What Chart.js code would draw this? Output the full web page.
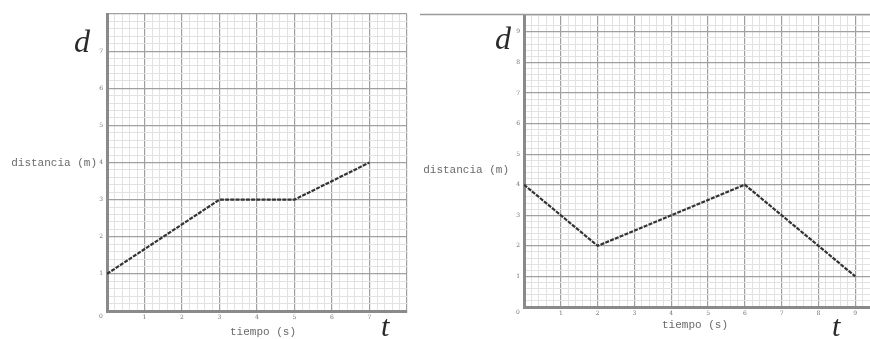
<!DOCTYPE html>
<html>
<head>
<meta charset="utf-8">
<script src="https://cdn.jsdelivr.net/npm/chart.js@4/dist/chart.umd.min.js"></script>
<style>
  html, body { margin: 0; padding: 0; background: #fff; }
  #wrap { position: relative; width: 870px; height: 339px; overflow: hidden; }
  canvas { position: absolute; top: 0; }
  #izq { left: 0; }
  #der { left: 420px; }
</style>
</head>
<body>
<div id="wrap">
  <canvas id="izq" width="420" height="339"></canvas>
  <canvas id="der" width="450" height="339"></canvas>
</div>
<script>
// Primer movimiento: tiempo (s) y distancia (m) en cada vértice
const tiempo1 = [0, 3, 5, 7];
const distancia1 = [1, 3, 3, 4];

// Segundo movimiento
const tiempo2 = [0, 2, 6, 9];
const distancia2 = [4, 2, 4, 1];

// Textos de los ejes
const tituloX = 'tiempo (s)';
const tituloY = 'distancia (m)';
const letraY = 'd';
const letraX = 't';
const origen = '0';

function esEntero(v) { return Math.abs(v - Math.round(v)) < 1e-6; }

// Papel milimetrado: líneas enteras más oscuras, subdivisiones claras
function colorRejilla(ctx) { return esEntero(ctx.tick.value) ? '#a0a0a0' : '#e2e2e2'; }
function anchoRejilla(ctx) { return esEntero(ctx.tick.value) ? 1.2 : 1; }

function etiqueta(limite) {
  return function (v) {
    const r = Math.round(v);
    return (esEntero(v) && r > 0 && r <= limite) ? String(r) : '';
  };
}

// Textos libres: letras grandes, títulos y origen
function rotulos(cfg) {
  return {
    id: 'rotulos',
    afterDraw(chart) {
      const c = chart.ctx;
      const a = chart.chartArea;
      c.save();
      if (cfg.lineaSuperior) {
        c.strokeStyle = '#9a9a9a';
        c.lineWidth = 1.6;
        c.beginPath();
        c.moveTo(0, a.top - 0.5);
        c.lineTo(chart.width, a.top - 0.5);
        c.stroke();
      }
      c.fillStyle = '#2a2a2a';
      c.textBaseline = 'alphabetic';
      c.textAlign = 'left';
      c.font = 'italic 32px "Liberation Serif", serif';
      c.fillText(letraY, cfg.d[0], cfg.d[1]);
      c.font = 'italic 30px "Liberation Serif", serif';
      c.fillText(letraX, cfg.t[0], cfg.t[1]);

      c.fillStyle = '#6a6a6a';
      c.font = '11px "Liberation Mono", monospace';
      c.textBaseline = 'middle';
      c.textAlign = 'right';
      c.fillText(tituloY, cfg.ty[0], cfg.ty[1]);
      c.textAlign = 'center';
      c.fillText(tituloX, cfg.tx[0], cfg.tx[1]);

      c.fillStyle = '#777';
      c.font = '6px "DejaVu Serif", serif';
      c.fillText(origen, a.left - 6, a.bottom + 5);
      c.restore();
    }
  };
}

function grafica(id, xs, ys, ejes, cfg) {
  const puntos = xs.map((x, i) => ({ x: x, y: ys[i] }));
  const marcas = { color: '#707070', font: { family: '"DejaVu Serif", serif', size: 6 }, autoSkip: false, maxRotation: 0 };
  return new Chart(document.getElementById(id), {
    type: 'line',
    data: {
      datasets: [{
        data: puntos,
        borderColor: '#333',
        borderWidth: 2.2,
        borderDash: [4, 1.2],
        pointRadius: 0,
        tension: 0,
        fill: false
      }]
    },
    options: {
      responsive: false,
      animation: false,
      devicePixelRatio: 1,
      layout: { padding: { top: cfg.top, right: cfg.right, left: 0, bottom: 0 } },
      plugins: { legend: { display: false }, tooltip: { enabled: false } },
      scales: {
        x: {
          type: 'linear',
          min: 0, max: ejes.xMax,
          ticks: Object.assign({ stepSize: 0.2, padding: 3, callback: etiqueta(ejes.xEtiq) }, marcas),
          grid: { color: colorRejilla, lineWidth: anchoRejilla, drawTicks: false },
          border: { color: '#8a8a8a', width: 3 },
          afterFit(s) { s.height = cfg.altoX; s.paddingLeft = 0; s.paddingRight = 0; }
        },
        y: {
          type: 'linear',
          min: 0, max: ejes.yMax,
          ticks: Object.assign({ stepSize: 0.2, padding: 4, callback: etiqueta(ejes.yEtiq) }, marcas),
          grid: { color: colorRejilla, lineWidth: anchoRejilla, drawTicks: false },
          border: { color: '#8a8a8a', width: 3 },
          afterFit(s) { s.width = cfg.anchoY; s.paddingTop = 0; s.paddingBottom = 0; }
        }
      }
    },
    plugins: [rotulos(cfg)]
  });
}

grafica('izq', tiempo1, distancia1,
  { xMax: 8, yMax: 8, xEtiq: 7, yEtiq: 7 },
  { top: 14, right: 13, altoX: 28, anchoY: 107,
    d: [74, 52], t: [381, 336], ty: [97, 163], tx: [263, 332], lineaSuperior: false });

grafica('der', tiempo2, distancia2,
  { xMax: 9.4, yMax: 9.55, xEtiq: 9, yEtiq: 9 },
  { top: 15, right: 0, altoX: 32, anchoY: 104,
    d: [75, 49], t: [412, 336], ty: [89, 170], tx: [275, 325], lineaSuperior: true });
</script>
</body>
</html>
